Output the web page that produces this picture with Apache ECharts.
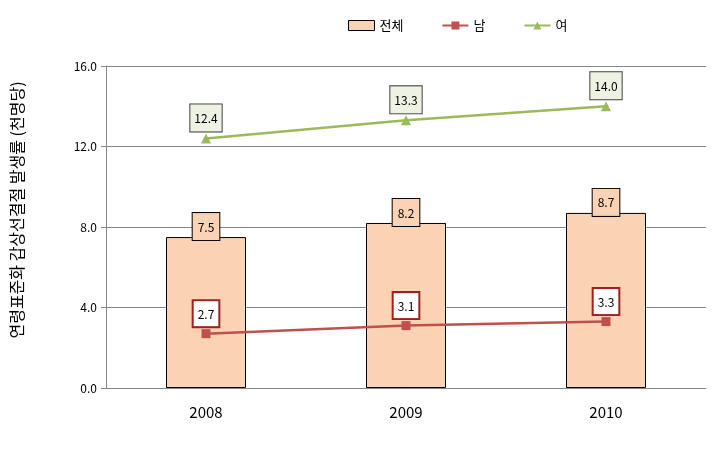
<!DOCTYPE html>
<html><head><meta charset="utf-8">
<script src="https://cdn.jsdelivr.net/npm/echarts@6/dist/echarts.min.js"></script>
<style>html,body{margin:0;padding:0;background:#fff}#c{width:720px;height:463px}</style>
</head><body><div id="c"></div>
<script>
const categories = ['2008', '2009', '2010'];
const totalValues = [7.5, 8.2, 8.7];
const maleValues = [2.7, 3.1, 3.3];
const femaleValues = [12.4, 13.3, 14.0];
const yTicks = [0, 4, 8, 12, 16];
const seriesNames = ['전체', '남', '여'];
const yAxisTitle = '연령표준화 갑상선결절 발생률 (천명당)';

const font = '"Noto Sans CJK KR", "Noto Sans", sans-serif';
const chart = echarts.init(document.getElementById('c'));
chart.setOption({
  animation: false,
  textStyle: { fontFamily: font },
  legend: {
    top: 14, left: 343, itemGap: 38, itemWidth: 26, itemHeight: 10,
    textStyle: { fontSize: 13, color: '#000', fontFamily: font },
    data: [
      { name: seriesNames[0], icon: 'rect', itemStyle: { borderWidth: 1 } },
      { name: seriesNames[1] },
      { name: seriesNames[2] }
    ]
  },
  graphic: [{
    type: 'text', x: 17, y: 210, rotation: Math.PI / 2,
    style: { text: yAxisTitle, fontSize: 16, fill: '#000', fontFamily: font,
             textAlign: 'center', textVerticalAlign: 'middle' }
  }],
  grid: { left: 106, right: 14, top: 66, bottom: 75 },
  xAxis: {
    type: 'category', data: categories,
    axisLine: { lineStyle: { color: '#868686' } },
    axisTick: { show: false },
    axisLabel: { fontSize: 15, color: '#000', margin: 17, fontFamily: font }
  },
  yAxis: {
    type: 'value', min: yTicks[0], max: yTicks[yTicks.length - 1], interval: 4,
    axisLine: { show: true, lineStyle: { color: '#868686' } },
    axisTick: { show: true, length: 5, lineStyle: { color: '#868686' } },
    splitLine: { lineStyle: { color: '#868686' } },
    axisLabel: { fontSize: 12, color: '#000', margin: 9, formatter: v => v.toFixed(1) }
  },
  series: [
    {
      name: seriesNames[0], type: 'bar', data: totalValues, barWidth: 80,
      itemStyle: { color: '#FAD3B4', borderColor: '#000', borderWidth: 1 },
      label: {
        show: true, position: 'top', distance: -3, formatter: p => p.value.toFixed(1),
        fontSize: 12, color: '#000', backgroundColor: '#FAD3B4',
        borderColor: '#000', borderWidth: 1, padding: [8, 5, 7, 5]
      },
      z: 1
    },
    {
      name: seriesNames[1], type: 'line', data: maleValues,
      symbol: 'rect', symbolSize: 9,
      lineStyle: { color: '#C0504D', width: 2.5 },
      itemStyle: { color: '#C0504D' },
      label: {
        show: true, position: 'top', distance: 3, formatter: p => p.value.toFixed(1),
        fontSize: 12, color: '#000', backgroundColor: '#fff',
        borderColor: '#A0201C', borderWidth: 2, padding: [7, 4, 6, 4]
      },
      z: 3
    },
    {
      name: seriesNames[2], type: 'line', data: femaleValues,
      symbol: 'triangle', symbolSize: 10,
      lineStyle: { color: '#9BBB59', width: 2.5 },
      itemStyle: { color: '#9BBB59' },
      label: {
        show: true, position: 'top', distance: 2, formatter: p => p.value.toFixed(1),
        fontSize: 12, color: '#000', backgroundColor: '#EEF2E2',
        borderColor: '#404040', borderWidth: 1, padding: [8, 4, 7, 4]
      },
      z: 3
    }
  ]
});
</script></body></html>
